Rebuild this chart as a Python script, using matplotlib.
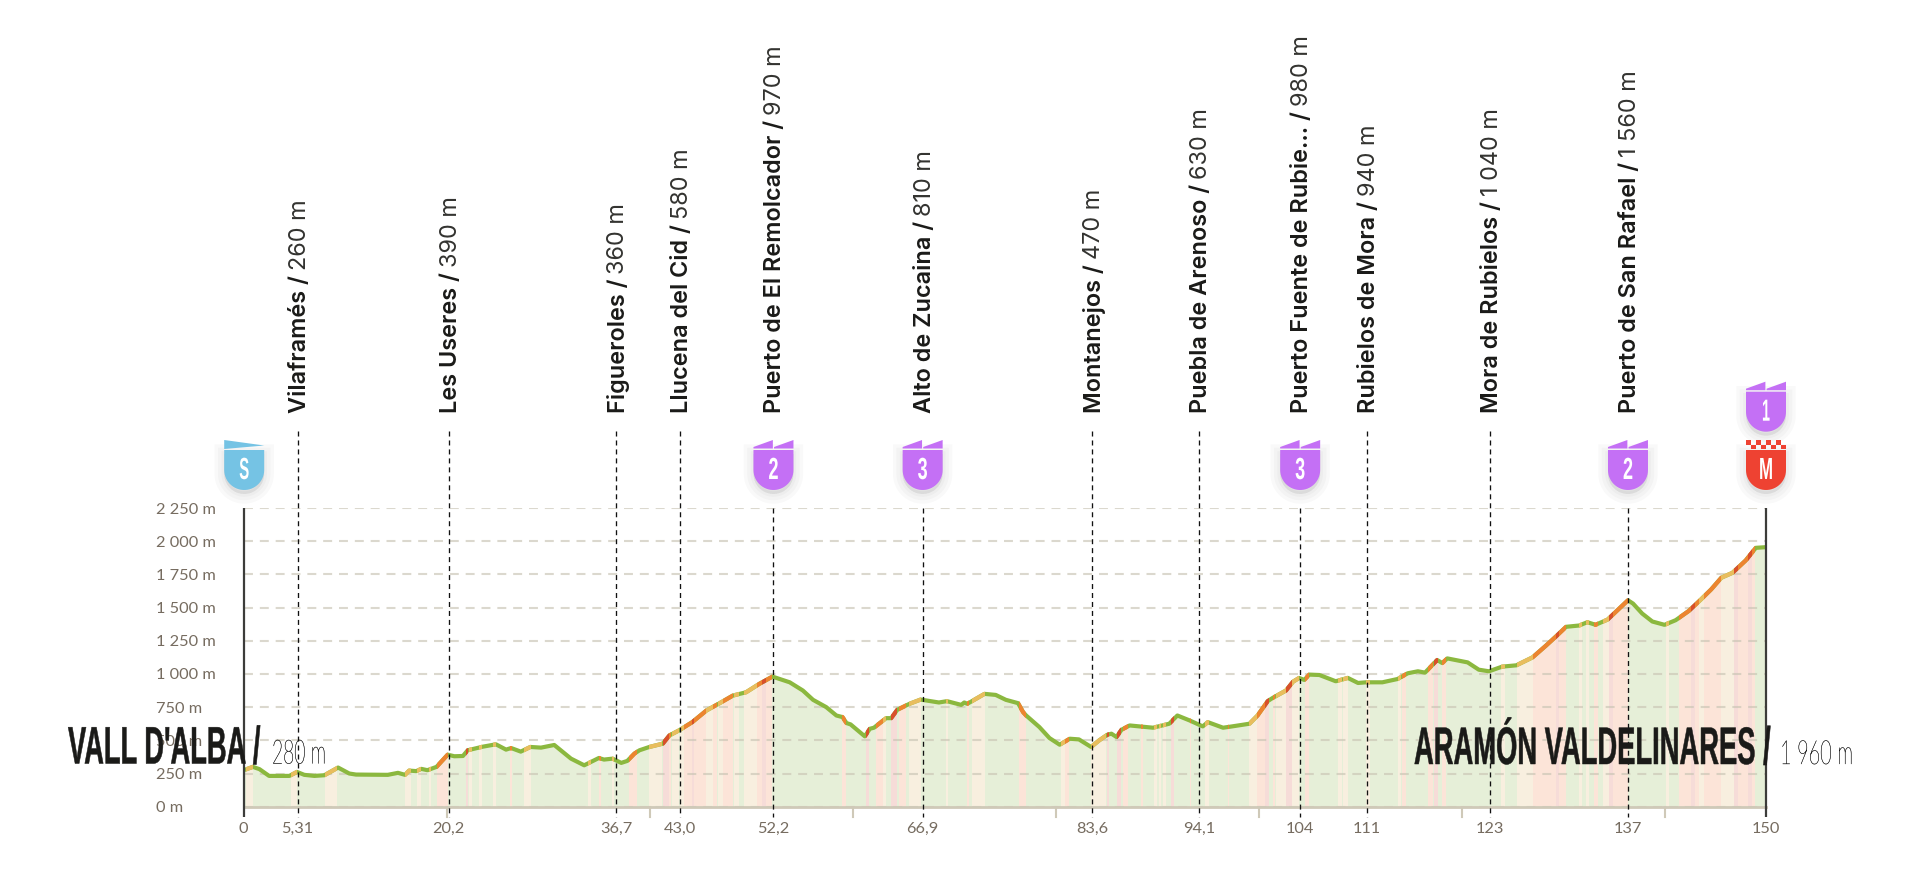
import numpy as np
import matplotlib
matplotlib.use("Agg")
import matplotlib.pyplot as plt
from matplotlib.patches import Polygon, Rectangle
from matplotlib.patheffects import AbstractPathEffect
from matplotlib.transforms import Affine2D, Bbox

# profile
km = [0, 0.9, 1.55, 2.5, 4.5, 5.25, 5.97, 6.96, 7.95, 9.3, 10.4, 11.07, 14.2, 15.2, 15.9, 16.3, 17.0, 17.5, 18.1, 19.0,
      20.1, 20.75, 21.6, 22.07, 23.55, 24.85, 25.85, 26.35, 27.3, 28.25, 29.3, 30.6, 32.25, 33.55, 35.0, 35.5, 36.35,
      37.2, 37.8, 38.5, 39.0, 39.97, 41.3, 41.95, 42.9, 44.2, 45.6, 46.9, 48.2, 49.5, 50.8, 52.1, 53.8, 55.1, 56.1,
      57.4, 58.4, 59.0, 59.4, 59.8, 61.2, 61.7, 62.1, 63.3, 63.8, 64.4, 65.6, 66.7, 68.5, 69.3, 70.7, 71.0, 71.3, 73.0,
      74.1, 75.1, 76.3, 76.8, 77.1, 78.4, 79.4, 80.4, 81.4, 82.3, 83.5, 84.3, 85.1, 85.5, 86.0, 86.5, 87.3, 89.6, 91.2,
      92.0, 93.2, 94.5, 95.0, 96.5, 97.4, 99.1, 99.9, 100.9, 101.4, 102.7, 103.4, 104.0, 104.5, 105.0, 106.0, 107.6,
      108.8, 109.8, 110.6, 112.2, 113.7, 114.7, 115.7, 116.4, 117.6, 118.1, 118.6, 120.6, 121.7, 122.7, 124.0, 125.4,
      127.0, 128.3, 129.3, 130.3, 131.6, 132.4, 133.2, 134.4, 136.4, 136.9, 137.8, 138.8, 140.0, 141.1, 142.4, 143.6,
      144.6, 145.6, 146.7, 148.0, 149.0, 150]
elevation = [275, 300, 283, 232, 232, 262, 240, 232, 237, 295, 250, 242, 240, 255, 240, 272, 268, 285, 275, 300,
             392, 380, 382, 425, 452, 470, 430, 442, 415, 450, 445, 465, 362, 312, 367, 355, 362,
             330, 345, 400, 425, 450, 475, 537, 575, 637, 725, 780, 837, 862, 925, 980, 937, 875, 805,
             750, 687, 675, 630, 620, 530, 587, 595, 667, 667, 730, 775, 807, 785, 795, 767, 785, 775, 850,
             842, 805, 780, 712, 687, 600, 517, 467, 512, 507, 450, 500, 542, 550, 525, 580, 612, 595, 625,
             687, 650, 605, 637, 595, 605, 625, 687, 795, 820, 875, 942, 970, 955, 995, 992, 945,
             970, 932, 937, 937, 962, 1005, 1020, 1010, 1105, 1082, 1117, 1087, 1032, 1020, 1055, 1065,
             1125, 1212, 1282, 1355, 1365, 1390, 1370, 1410, 1555, 1530, 1455, 1395, 1370, 1405, 1475, 1562,
             1637, 1725, 1762, 1855, 1950, 1955]

# stretches of road by steepness, everything else is green
yellow_spans = [(0.2, 0.95), (4.66, 5.3), (8.05, 9.2), (15.9, 16.5), (17.1, 17.5), (18.3, 18.5), (22.2, 22.5),
                (23.2, 23.45), (24.6, 24.85), (27.6, 28.3), (33.9, 34.2), (36.3, 36.5), (39.9, 40.3), (40.6, 41.2),
                (42.2, 42.9), (43.0, 43.4), (45.6, 45.9), (46.7, 47.0), (48.3, 48.5), (49.3, 50.6), (63.0, 63.3),
                (65.6, 66.7), (69.2, 69.35), (71.8, 73.0), (80.5, 80.9), (83.5, 85.0), (89.7, 90.0), (90.2, 90.4),
                (90.6, 90.9), (94.75, 95.15), (99.1, 99.8), (101.7, 102.7), (103.3, 104.0), (107.8, 108.2),
                (108.35, 108.8), (110.6, 111.0), (113.7, 114.0), (123.9, 124.3), (125.5, 127.0), (131.6, 131.85),
                (132.3, 132.6), (133.9, 134.5), (140.1, 140.4), (143.4, 143.9), (145.55, 146.8),
                (40.3, 40.6), (45.9, 46.2), (47.0, 47.2), (48.5, 48.8)]
orange_spans = [(19.05, 20.1), (26.2, 26.4), (35.0, 35.2), (38.0, 38.8), (41.9, 42.1), (43.4, 44.2), (44.4, 45.2),
                (46.2, 46.6), (47.2, 47.5), (47.8, 48.2), (50.6, 51.1), (51.5, 52.1), (59.0, 59.35), (62.3, 63.0),
                (64.6, 65.3), (71.3, 71.5), (76.4, 77.1), (80.9, 81.3), (86.6, 87.1), (88.4, 88.6), (93.2, 93.35),
                (96.95, 97.1), (99.8, 100.6), (101.4, 101.65), (104.6, 104.95), (114.1, 114.5), (116.65, 117.15),
                (118.1, 118.5), (127.0, 129.3), (129.6, 130.3), (133.1, 133.4), (134.9, 136.4), (141.4, 142.6),
                (143.0, 143.4), (143.9, 145.55), (147.2, 148.9), (45.2, 45.6), (47.5, 47.8)]
red_spans = [(21.9, 22.07), (41.3, 41.9), (44.2, 44.4), (51.1, 51.5), (61.3, 61.65), (63.8, 64.4), (85.07, 85.3),
             (86.05, 86.45), (91.4, 91.7), (100.6, 101.05), (102.7, 103.3), (117.3, 117.7), (129.3, 129.6),
             (134.55, 134.9), (142.6, 143.0), (146.8, 147.2), (148.2, 148.6)]

# passing points
place_km = [5.31, 20.2, 36.7, 43.0, 52.2, 66.9, 83.6, 94.1, 104.1, 110.7, 122.8, 136.4]
place_names = ["Vilaframés /", "Les Useres /", "Figueroles /", "Llucena del Cid /", "Puerto de El Remolcador /",
               "Alto de Zucaina /", "Montanejos /", "Puebla de Arenoso /", "Puerto Fuente de Rubie... /",
               "Rubielos de Mora /", "Mora de Rubielos /", "Puerto de San Rafael /"]
place_alt = ["260 m", "390 m", "360 m", "580 m", "970 m", "810 m", "470 m", "630 m", "980 m", "940 m", "1 040 m",
             "1 560 m"]
place_badge = [None, None, None, None, "2", "3", None, None, "3", None, None, "2"]

x_tick_km = [0] + place_km + [150]
x_tick_labels = ["0", "5,31", "20,2", "36,7", "43,0", "52,2", "66,9", "83,6", "94,1", "104", "111", "123", "137", "150"]
minor_km = [20, 40, 60, 80, 100, 120, 140]
y_ticks = [0, 250, 500, 750, 1000, 1250, 1500, 1750, 2000, 2250]
y_labels = ["0 m", "250 m", "500 m", "750 m", "1 000 m", "1 250 m", "1 500 m", "1 750 m", "2 000 m", "2 250 m"]

GREEN, GREEN_BG = "#8bb83f", "#e6efd8"
STYLES = [(yellow_spans, "#e9bd5e", "#f8efdf"), (orange_spans, "#ed8430", "#fce4d8"), (red_spans, "#d94f2b", "#f6dcd8")]
TEXT_DARK = "#1a1a18"
TEXT_GREY = "#766c60"
W, H = 1920, 876
AX_L, AX_R, AX_T, AX_B = 243.7, 1766, 508, 806.7


class Squeeze(AbstractPathEffect):
    # condensed type: no condensed font here, so squash the glyphs sideways around x0
    def __init__(self, sx, x0, stroke=0):
        super().__init__()
        self.sx = sx
        self.x0 = x0
        self.stroke = stroke

    def draw_path(self, renderer, gc, tpath, affine, rgbFace=None):
        squash = Affine2D().translate(-self.x0, 0).scale(self.sx, 1).translate(self.x0, 0)
        gc2 = renderer.new_gc()
        gc2.copy_properties(gc)
        if self.stroke:
            gc2.set_linewidth(self.stroke)
            gc2.set_foreground(rgbFace)
        else:
            gc2.set_linewidth(0)
        renderer.draw_path(gc2, tpath, affine + squash, rgbFace)
        gc2.restore()


fig = plt.figure(figsize=(W / 100, H / 100), dpi=100)
ax = fig.add_axes([AX_L / W, 1 - AX_B / H, (AX_R - AX_L) / W, (AX_B - AX_T) / H])
ov = fig.add_axes([0, 0, 1, 1], zorder=5)  # overlay in picture pixels
ov.set_xlim(0, W)
ov.set_ylim(H, 0)
ov.axis("off")
ov.patch.set_alpha(0)
renderer = fig.canvas.get_renderer()

ax.set_xlim(0, 150)
ax.set_ylim(0, 2250)
for side in ax.spines:
    ax.spines[side].set_visible(False)

# profile fill with a stripe per stretch
profile = ax.fill_between(km, elevation, 0, color=GREEN_BG, lw=0, zorder=1)
clip_poly = Polygon(list(zip(km, elevation)) + [(150, 0), (0, 0)], transform=ax.transData)
for spans, line_col, bg_col in STYLES:
    for start, end in spans:
        band = ax.axvspan(start, end, color=bg_col, lw=0, zorder=1.5)
        band.set_clip_path(clip_poly)

ax.set_yticks(y_ticks, y_labels, ha="left", family="Lato", fontsize=11.8, color=TEXT_GREY)
ax.set_xticks(x_tick_km, x_tick_labels, family="Lato", fontsize=11.8, color=TEXT_GREY)
ax.tick_params(axis="y", length=0, pad=63)
ax.tick_params(axis="x", length=0, pad=11)
ax.grid(axis="y", color="#c9c4b4", alpha=0.65, lw=1.5, ls=(0, (4.3, 3.3)), zorder=2)
ax.grid(axis="x", visible=False)
ax.set_axisbelow(False)

# road line, green first and the steep bits on top
ax.plot(km, elevation, color=GREEN, lw=3, solid_capstyle="butt", solid_joinstyle="round", zorder=3, clip_on=False)
for spans, line_col, bg_col in STYLES:
    for start, end in spans:
        seg = ax.plot(km, elevation, color=line_col, lw=3, zorder=3.2)[0]
        seg.set_clip_path(Rectangle((start, 0), end - start, 2250, transform=ax.transData))

# baseline and frame
ax.axhline(0, color="#cfc9b8", lw=2, zorder=3.5, clip_on=False)
for k in minor_km:
    ax.plot([k, k], [0, -10 / (AX_B - AX_T)], transform=ax.get_xaxis_transform(), color="#cfc9b8", lw=1.5,
            clip_on=False, zorder=3.5)
for k in [0, 150]:
    ax.plot([k, k], [1, -10 / (AX_B - AX_T)], transform=ax.get_xaxis_transform(), color="#3c3c3a", lw=1.6,
            clip_on=False, zorder=4, solid_capstyle="butt")

# dashed lines for the passing points, from below the label or below the badge
for k, name, alt, badge in zip(place_km, place_names, place_alt, place_badge):
    top = 1.0 if badge else (AX_B - 431) / (AX_B - AX_T)
    ax.plot([k, k], [top, -10 / (AX_B - AX_T)], transform=ax.get_xaxis_transform(), color="#111111", lw=0.95,
            ls=(0, (3.8, 3)), clip_on=False, zorder=4)

    x_px = AX_L + k / 150 * (AX_R - AX_L) + 2
    t = ov.text(x_px, 413, name, rotation=90, ha="center", va="bottom", family="Inter", weight="semibold",
                fontsize=16.9, color=TEXT_DARK)
    top_px = H - t.get_window_extent(renderer).y1
    ov.text(x_px, top_px - 5, alt, rotation=90, ha="center", va="bottom", family="Inter", fontsize=16.9,
            color="#333330")


def narrow_text(x, y, s, target_w, size, color=TEXT_DARK, weight="bold", ha="left", family="Liberation Sans", stroke=0):
    t = ov.text(x, y, s, ha=ha, va="baseline", family=family, weight=weight, fontsize=size, color=color)
    full_extent = t.get_window_extent

    sx = target_w / full_extent(renderer).width
    t.set_path_effects([Squeeze(sx, x, stroke)])

    def squeezed_extent(renderer=None, dpi=None):
        bb = full_extent(renderer, dpi)
        return Bbox([[x + (bb.x0 - x) * sx, bb.y0], [x + (bb.x1 - x) * sx, bb.y1]])

    t.get_window_extent = squeezed_extent
    return t


def badge_shape(x, offset, color, flag, label, label_w):
    theta = np.linspace(0, np.pi, 30)
    arc = np.column_stack([x + 20 * np.cos(theta), 470 + offset + 20 * np.sin(theta)])
    body = np.vstack([[[x + 20, 450 + offset]], arc, [[x - 20, 450 + offset]]])
    for w in (14, 9, 4):
        ov.add_patch(Polygon(body + [0, 4], fc="k", ec="k", alpha=0.025, lw=w, zorder=1))
    ov.add_patch(Polygon(body, fc=color, lw=0, zorder=2))
    if flag == "start":
        ov.add_patch(Polygon([(x - 20, 440), (x + 20, 445.5), (x - 20, 449)], fc=color, lw=0, zorder=2))
    elif flag == "finish":
        for col in range(8):
            for row in range(2):
                if (col + row) % 2 == 0:
                    ov.add_patch(Rectangle((x - 20 + col * 5, 440 + offset + row * 4.5), 5, 4.5, fc=color, lw=0,
                                           zorder=2))
    else:
        for x0 in (x - 20, x + 0.6):
            ov.add_patch(Polygon([(x0, 447 + offset), (x0 + 19.4, 440 + offset), (x0 + 19.4, 448.5 + offset),
                                  (x0, 448.5 + offset)], fc=color, lw=0, zorder=2))
    txt = narrow_text(x, 479 + offset, label, label_w, 22, color="white", ha="center")
    txt.set_zorder(3)


BLUE, PURPLE, RED = "#75c3e4", "#c470f5", "#ee4232"
badge_shape(AX_L + 0.5, 0, BLUE, "start", "S", 10)
for k, badge in zip(place_km, place_badge):
    if badge:
        badge_shape(AX_L + k / 150 * (AX_R - AX_L), 0, PURPLE, "climb", badge, 10)
badge_shape(AX_R, 0, RED, "finish", "M", 14)
badge_shape(AX_R, -58.3, PURPLE, "climb", "1", 8)

# start and finish names
narrow_text(68, 763.5, "VALL D'ALBA /", 192, 38, stroke=0.35)
narrow_text(272, 763.5, "280 m", 54, 24, color="#111111", weight="light", family="Lato", stroke=0.2)
narrow_text(1414, 764, "ARAMÓN VALDELINARES /", 356, 38, stroke=0.35)
narrow_text(1780, 764, "1 960 m", 73, 24, color="#111111", weight="light", family="Lato", stroke=0.2)

fig.savefig("out.png", dpi=100, facecolor="white")
